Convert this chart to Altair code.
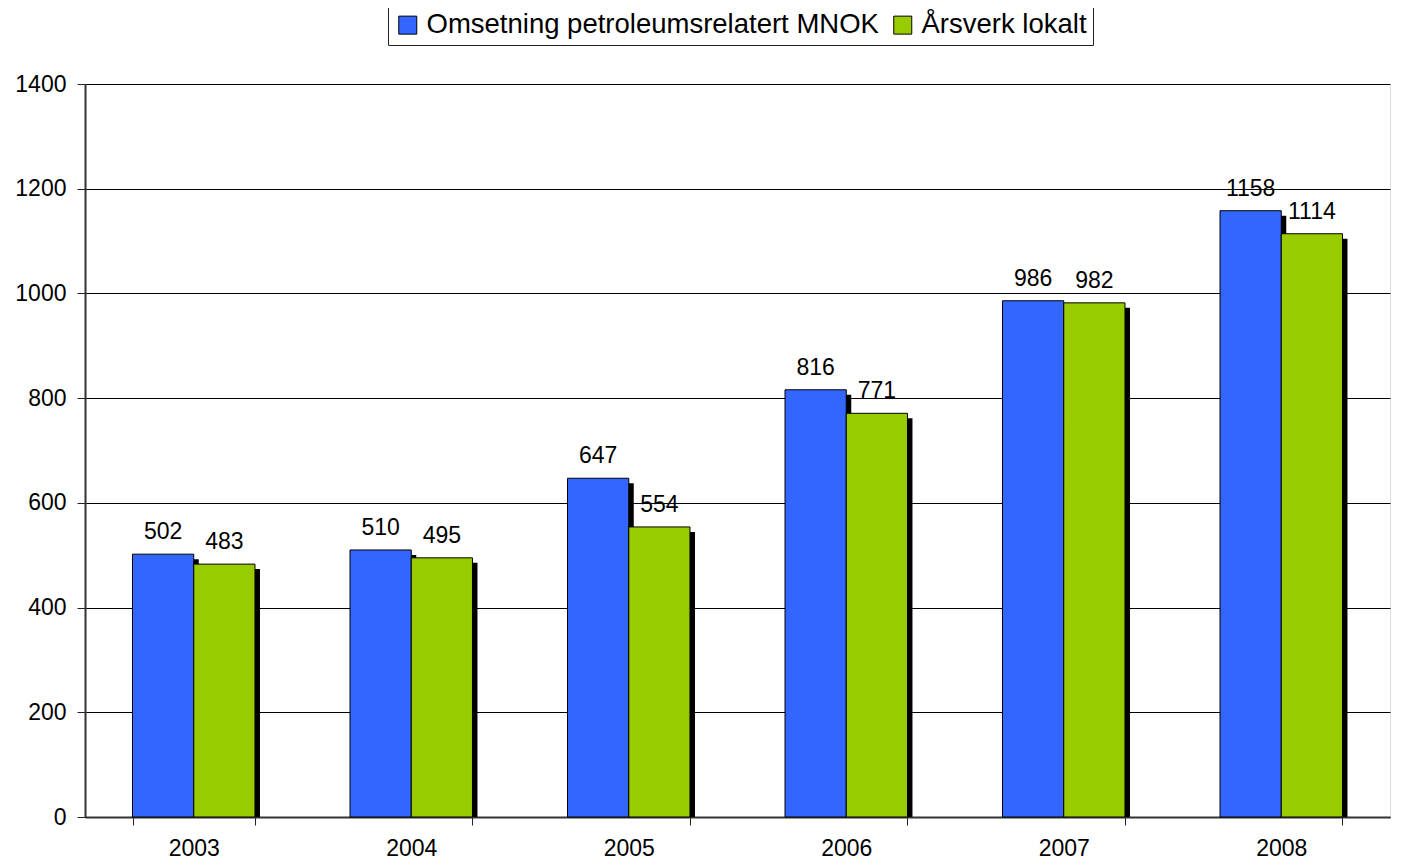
import altair as alt
import pandas as pd

years = ["2003", "2004", "2005", "2006", "2007", "2008"]
series_names = ["Omsetning petroleumsrelatert MNOK", "Årsverk lokalt"]
omsetning = [502, 510, 647, 816, 986, 1158]
arsverk = [483, 495, 554, 771, 982, 1114]
colors = ["#3366FF", "#99CC00"]
y_ticks = [0, 200, 400, 600, 800, 1000, 1200, 1400]

rows = []
for i, y in enumerate(years):
    rows.append({"year": y, "series": series_names[0], "value": omsetning[i]})
    rows.append({"year": y, "series": series_names[1], "value": arsverk[i]})
df = pd.DataFrame(rows)

FONT = "Liberation Sans"
W = 1305
H = 733
P_INNER = 0.437
step = W / len(years)
bw = step * (1 - P_INNER)
SH = 5

xscale = alt.Scale(paddingInner=P_INNER, paddingOuter=P_INNER / 2)
x = alt.X("year:N", sort=years, scale=xscale,
          axis=alt.Axis(title=None, labelAngle=0, tickBand="extent", grid=False,
                        labelFontSize=23, labelFont=FONT, labelColor="black",
                        tickSize=8, tickColor="#222", labelPadding=12,
                        domainColor="#333", domainWidth=2))
y = alt.Y("value:Q", scale=alt.Scale(domain=[0, 1400], nice=False),
          axis=alt.Axis(title=None, values=y_ticks, format="d", grid=True,
                        gridColor="#000", gridOpacity=1,
                        gridWidth=1, labelFontSize=23, labelFont=FONT,
                        labelColor="black", tickSize=8, tickColor="#222",
                        labelPadding=11, domainColor="#333", domainWidth=2))

base = alt.Chart(df)

shadow = base.mark_bar(color="black", yOffset=SH, clip=True).encode(
    x=x, y=y,
    xOffset=alt.XOffset("series:N", sort=series_names,
                        scale=alt.Scale(range=[SH, bw + SH], paddingInner=0, paddingOuter=0)),
)

off = alt.XOffset("series:N", sort=series_names,
                  scale=alt.Scale(paddingInner=0, paddingOuter=0))

bars = base.mark_bar(stroke="black", strokeWidth=1).encode(
    x=x, y=y, xOffset=off,
    color=alt.Color("series:N", sort=series_names,
                    scale=alt.Scale(domain=series_names, range=colors),
                    legend=alt.Legend(title=None, orient="none", direction="horizontal",
                                      legendX=303, legendY=-79,
                                      fillColor="white", strokeColor="#222",
                                      padding=6, symbolType="square", symbolSize=324,
                                      symbolStrokeColor="black", symbolStrokeWidth=1,
                                      symbolOpacity=1,
                                      labelFontSize=27.5, labelFont=FONT, labelColor="black",
                                      labelOffset=5, columnPadding=10, labelLimit=1000)),
)

labels = base.mark_text(baseline="alphabetic", dy=-15, fontSize=23, font=FONT,
                        color="black").encode(
    x=x, y=y, xOffset=off, text=alt.Text("value:Q"),
)

front = alt.layer(bars, labels)

chart = alt.layer(shadow, front).resolve_scale(xOffset="independent").properties(
    width=W, height=H,
    autosize=alt.AutoSizeParams(type="none"),
    padding={"left": 77, "top": 76, "right": 5, "bottom": 43},
).configure_view(fill="#C0C0C0", stroke="transparent").configure(background="white")

chart.save("out.html", embed_options={"renderer": "svg", "actions": False})
